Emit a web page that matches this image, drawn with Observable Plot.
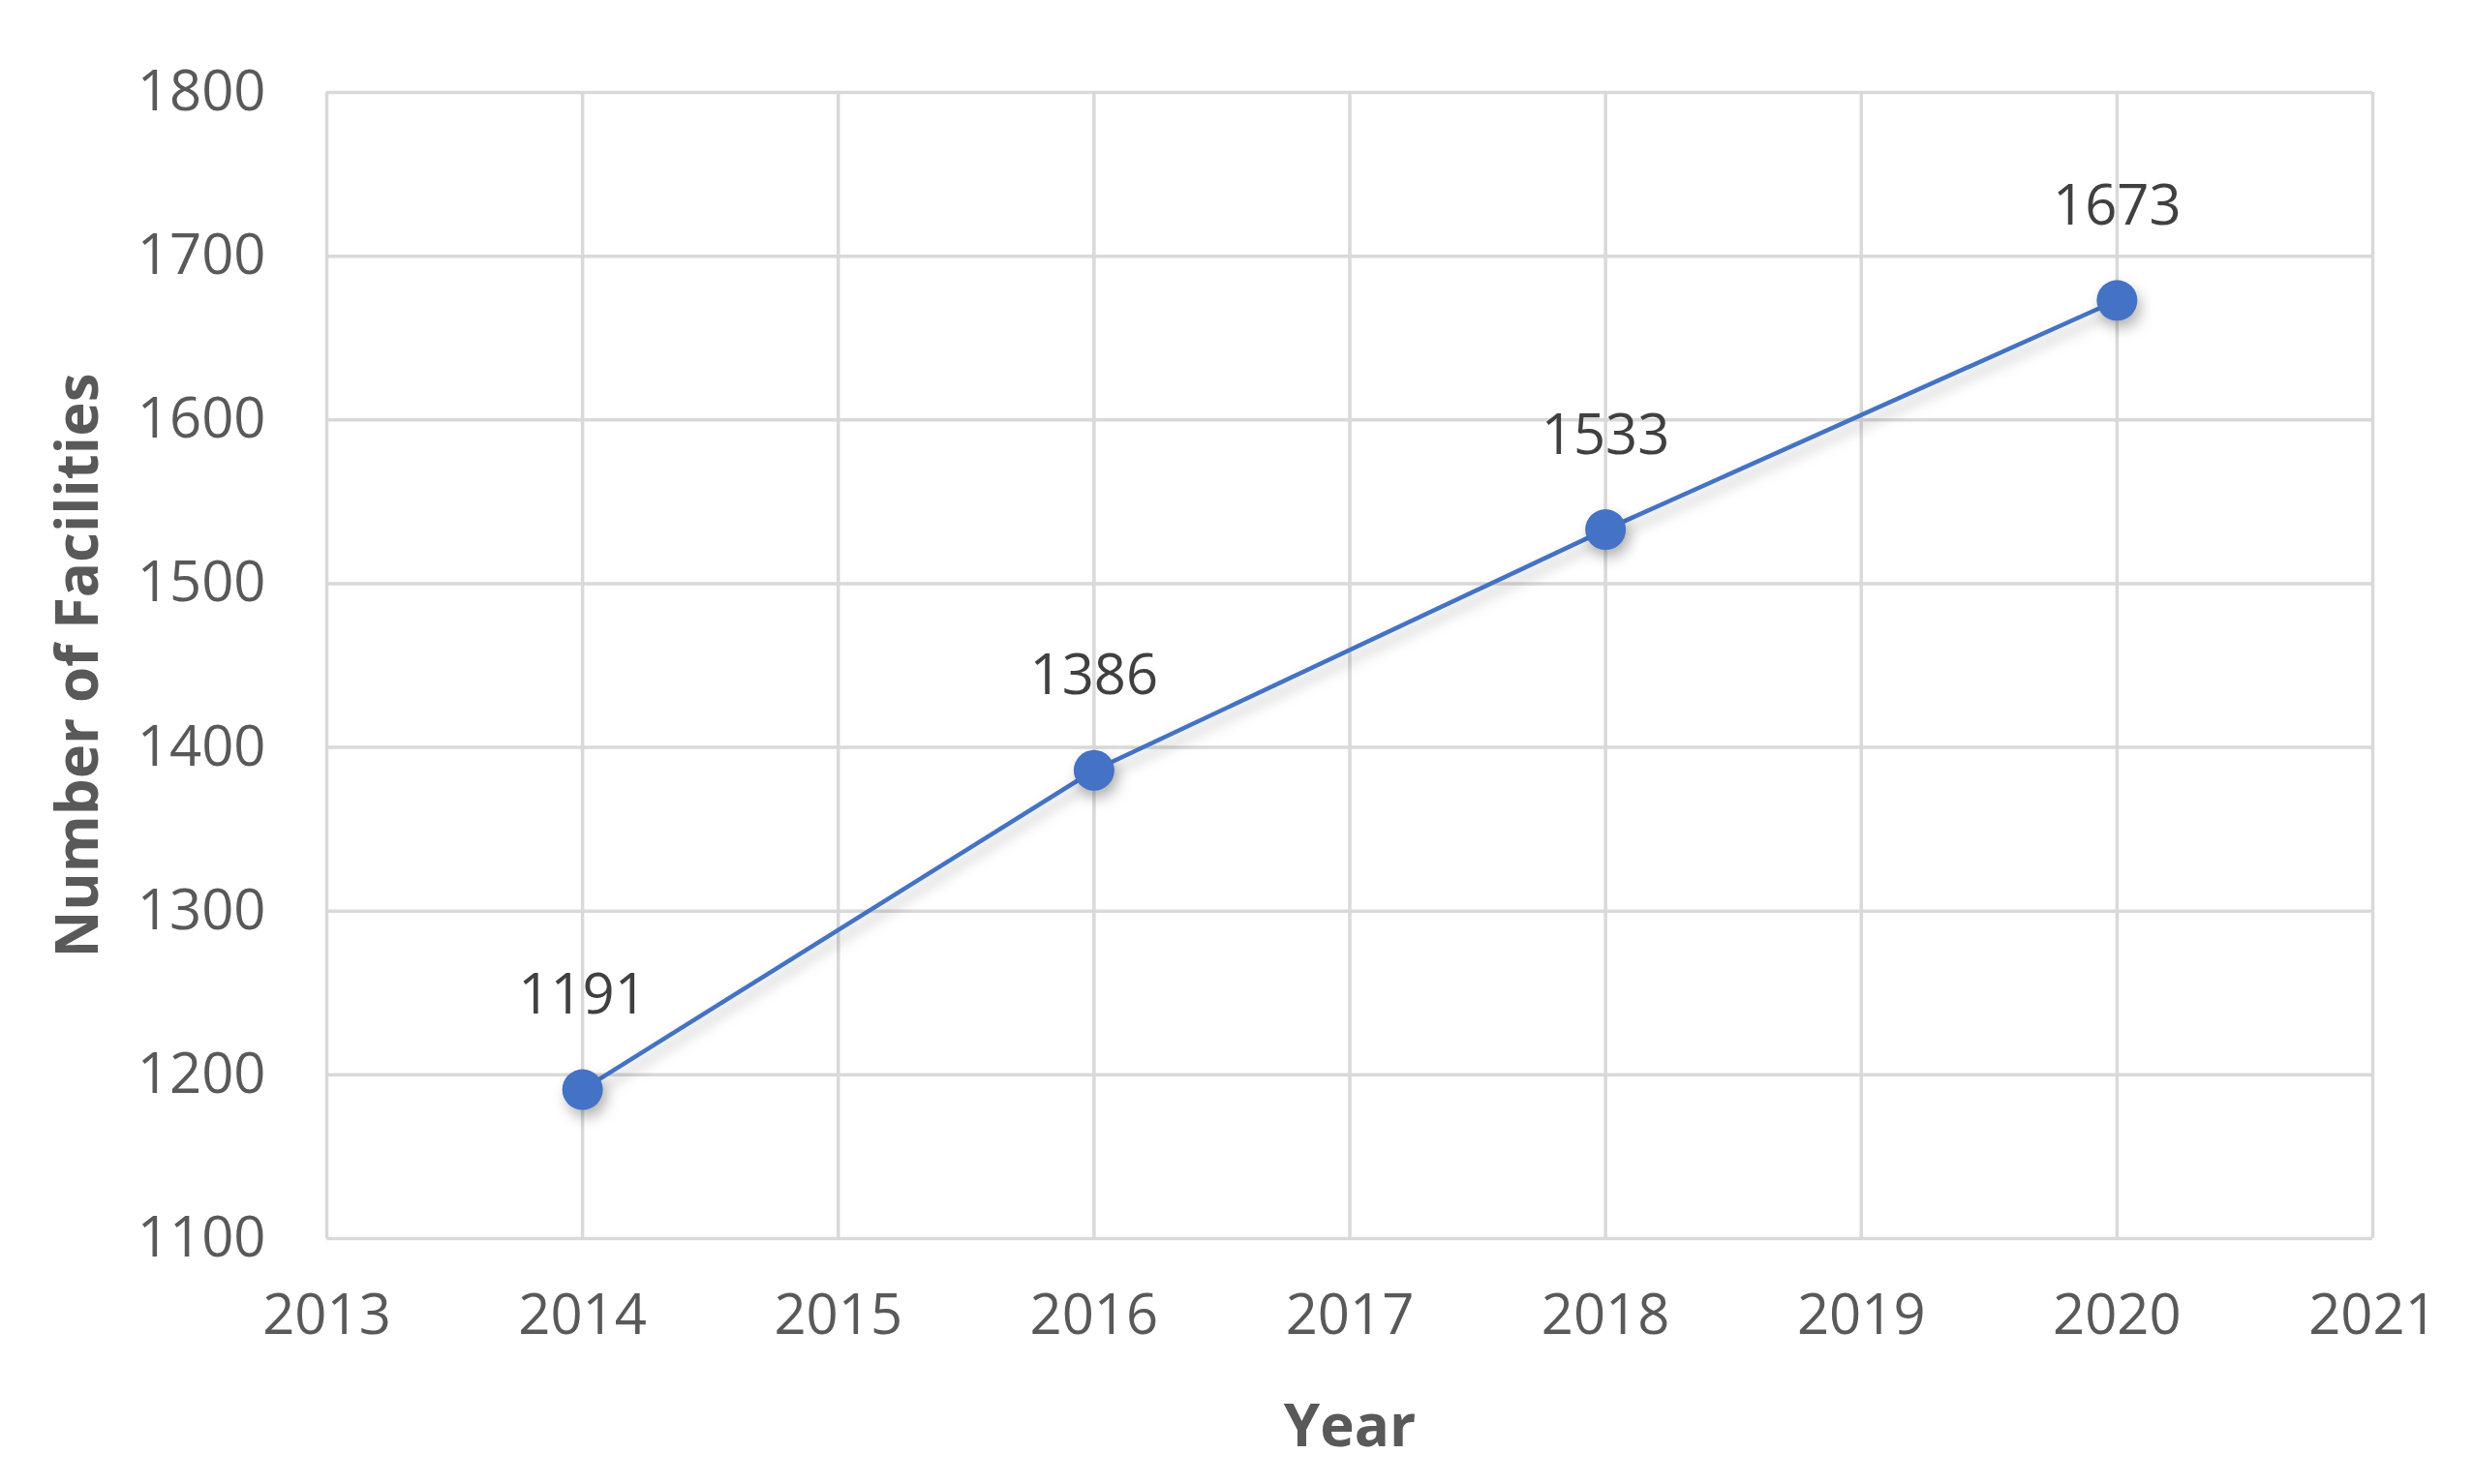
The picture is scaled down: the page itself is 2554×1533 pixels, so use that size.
<!DOCTYPE html>
<html>
<head>
<meta charset="utf-8">
<script src="https://cdn.jsdelivr.net/npm/d3@7"></script>
<script src="https://cdn.jsdelivr.net/npm/@observablehq/plot@0.6"></script>
<style>
  html, body { margin: 0; padding: 0; background: #ffffff; }
  #chart { width: 2554px; height: 1533px; }
</style>
</head>
<body>
<div id="chart"></div>
<script>
const years = [2014, 2016, 2018, 2020];
const facilities = [1191, 1386, 1533, 1673];
const xTicks = [2013, 2014, 2015, 2016, 2017, 2018, 2019, 2020, 2021];
const yTicks = [1100, 1200, 1300, 1400, 1500, 1600, 1700, 1800];
const xTitle = "Year";
const yTitle = "Number of Facilities";

const data = years.map((year, i) => ({year, value: facilities[i]}));

const gridColor = "#d9d9d9";
const lineColor = "#4472c4";

const chart = Plot.plot({
  width: 2554,
  height: 1533,
  marginLeft: 337,
  marginRight: 104,
  marginTop: 95,
  marginBottom: 254,
  style: {fontFamily: "'Open Sans', sans-serif", fontSize: "58px", color: "#595959", background: "#ffffff"},
  x: {type: "linear", domain: [2013, 2021]},
  y: {type: "linear", domain: [1100, 1800]},
  marks: [
    Plot.gridX(xTicks, {stroke: gridColor, strokeOpacity: 1, strokeWidth: 3.5}),
    Plot.gridY(yTicks, {stroke: gridColor, strokeOpacity: 1, strokeWidth: 3.5}),
    Plot.axisX({ticks: xTicks, tickSize: 0, tickPadding: 57, tickFormat: d => String(d), label: null, fill: "#595959"}),
    Plot.axisY({ticks: yTicks, tickSize: 0, tickPadding: 63, tickFormat: d => String(d), label: null, fill: "#595959"}),
    Plot.line(data, {x: "year", y: "value", stroke: lineColor, strokeWidth: 4.5}),
    Plot.dot(data, {x: "year", y: "value", r: 21, fill: lineColor, stroke: "none"}),
    Plot.text(data, {x: "year", y: "value", text: d => String(d.value), dy: -97, lineAnchor: "middle", fill: "#404040", fontSize: 58}),
    Plot.text([xTitle], {frameAnchor: "bottom", dy: 195, textAnchor: "middle", lineAnchor: "middle", fontWeight: "bold", fontSize: 60, fill: "#595959"}),
    Plot.text([yTitle], {frameAnchor: "left", dx: -256, rotate: -90, textAnchor: "middle", lineAnchor: "middle", fontWeight: "bold", fontSize: 60, fill: "#595959"})
  ]
});

d3.select(chart).selectAll("g[aria-label='line'], g[aria-label='dot']")
  .style("filter", "drop-shadow(4px 8px 7px rgba(0,0,0,0.28))");

document.getElementById("chart").appendChild(chart);
</script>
</body>
</html>
